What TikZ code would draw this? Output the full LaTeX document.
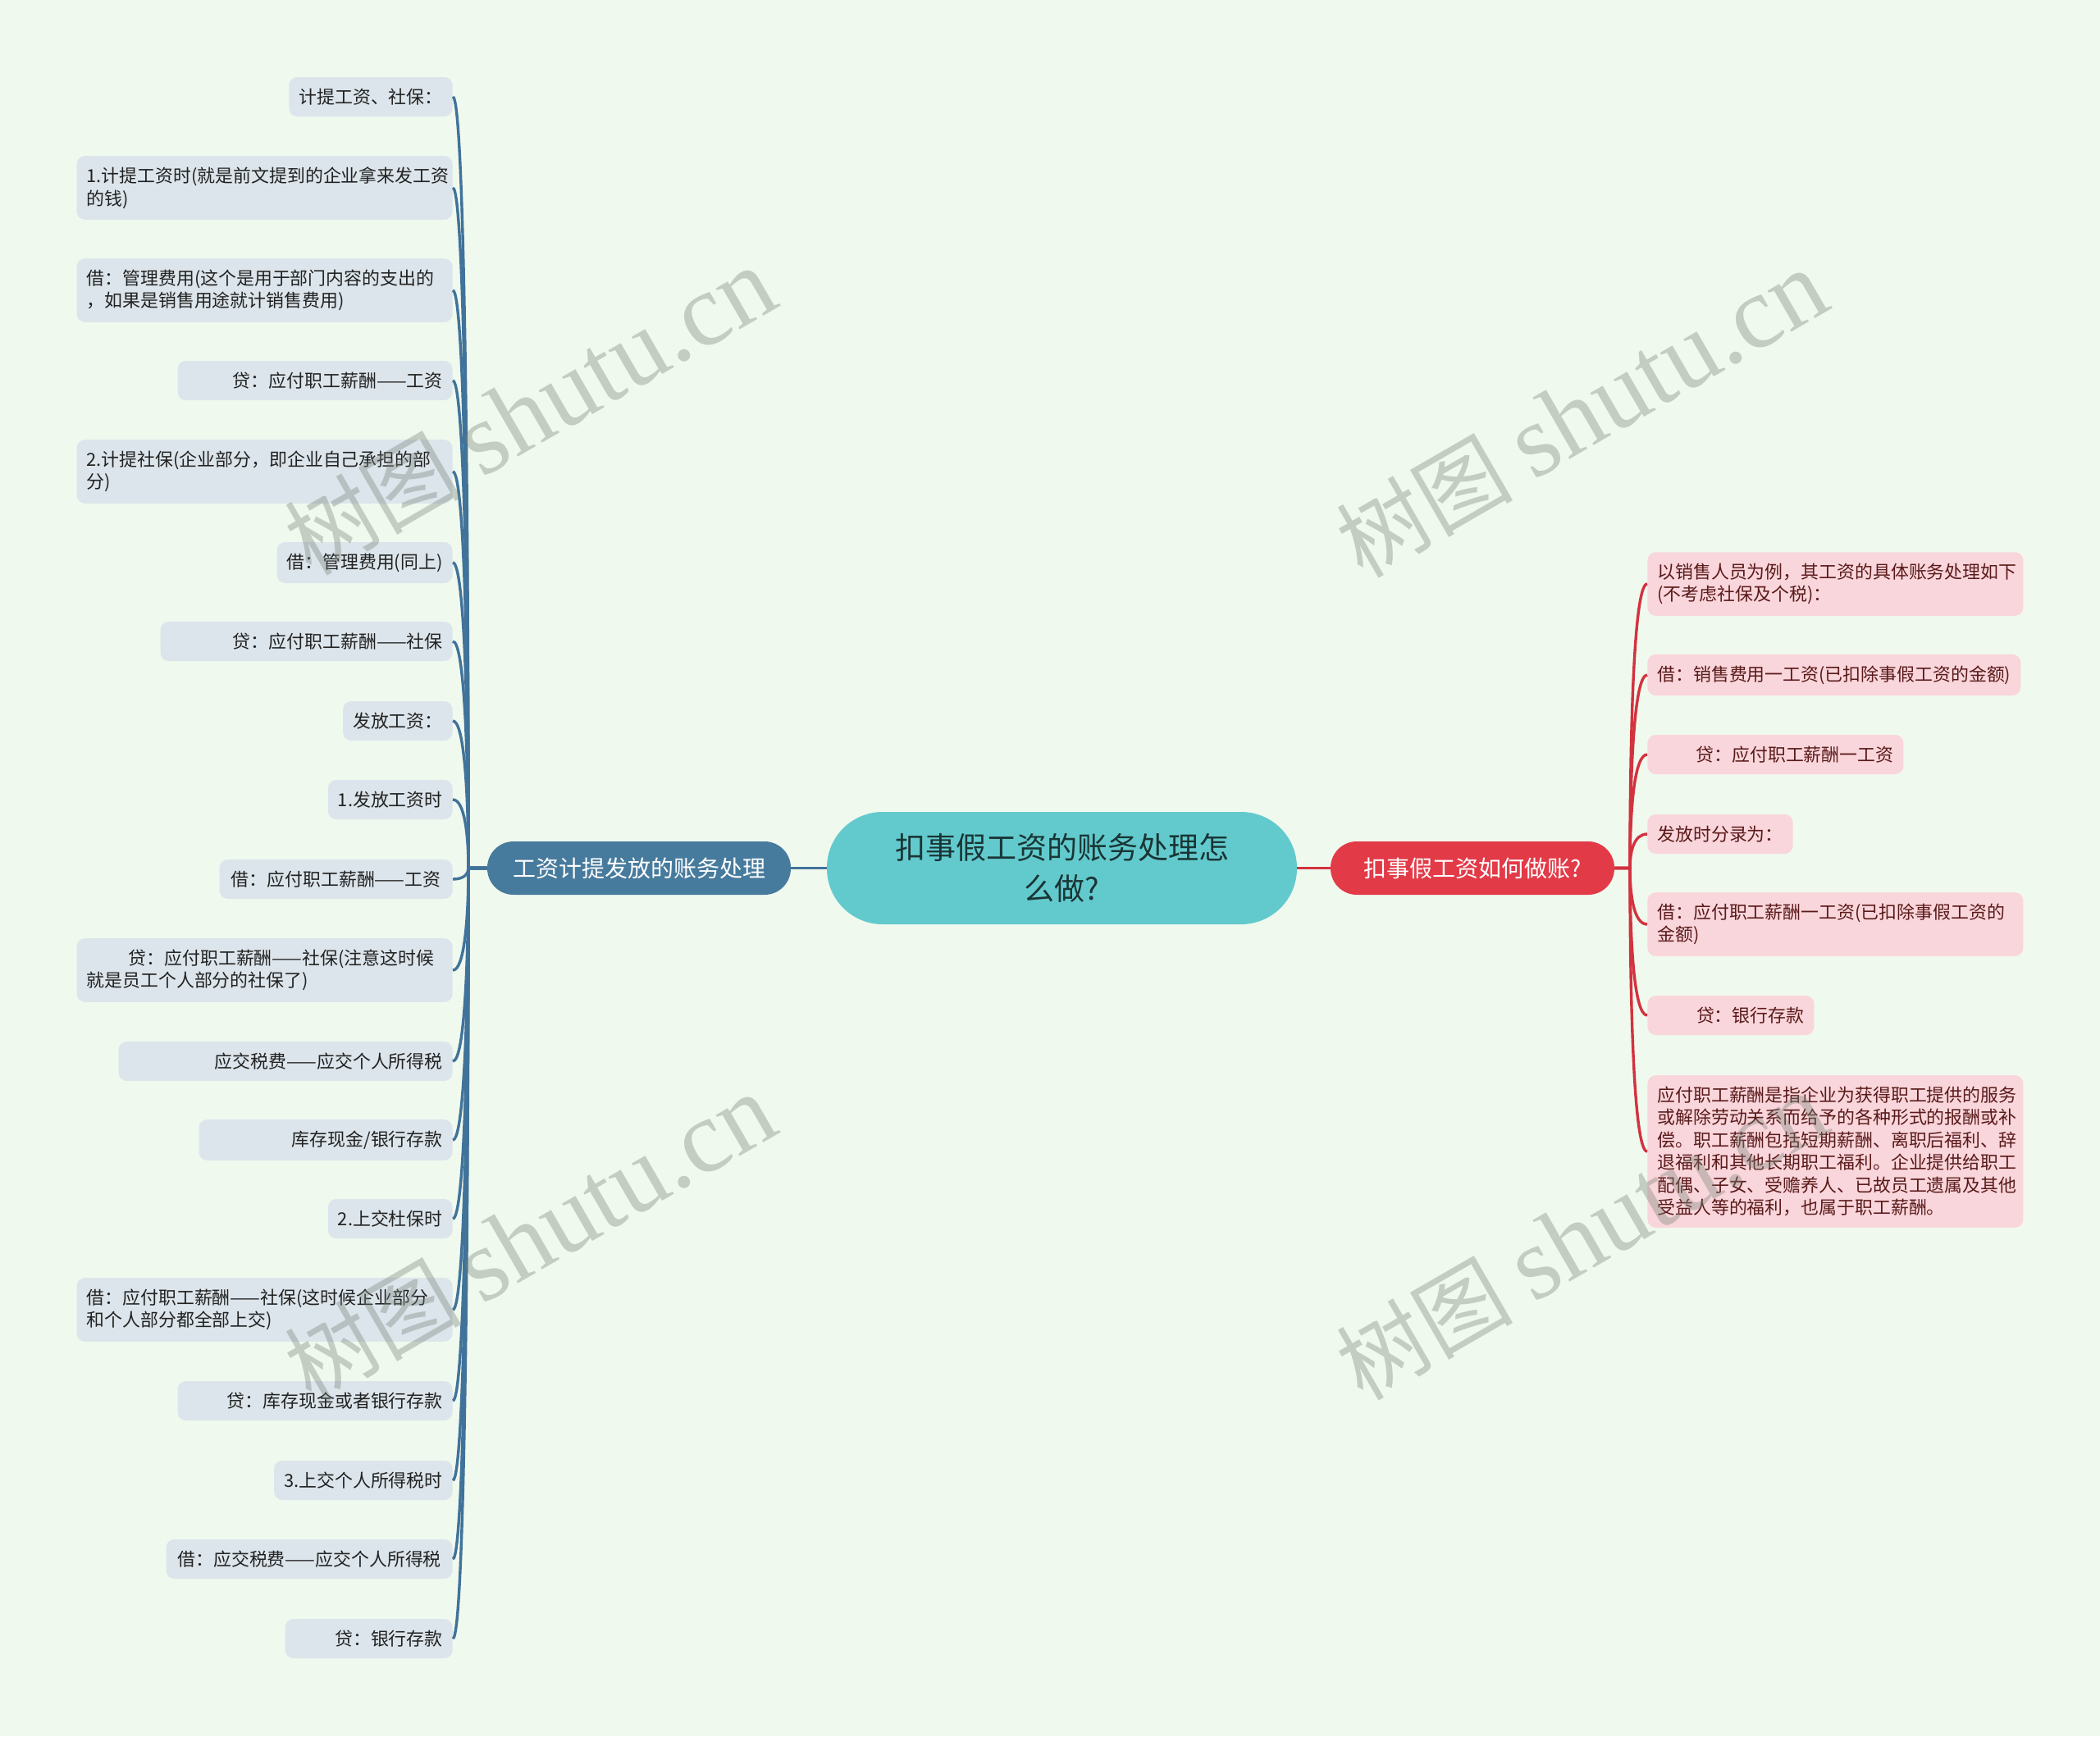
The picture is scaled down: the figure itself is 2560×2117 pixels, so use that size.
\documentclass[tikz,border=0pt]{standalone}
\usepackage{fontspec}
\setmainfont{Noto Sans CJK SC}
\newfontfamily\wmlatin{Liberation Serif}
\definecolor{bgc}{HTML}{F0F9EE}
\definecolor{lfill}{HTML}{DCE5EB}
\definecolor{ltext}{HTML}{222222}
\definecolor{lline}{HTML}{41739A}
\definecolor{lbfill}{HTML}{477B9D}
\definecolor{cfill}{HTML}{62CACD}
\definecolor{ctext}{HTML}{1A3535}
\definecolor{rbfill}{HTML}{E33A48}
\definecolor{rfill}{HTML}{F9D6DB}
\definecolor{rtext}{HTML}{5A1A1A}
\definecolor{rline}{HTML}{D3323F}
\definecolor{wmc}{RGB}{120,130,120}
\newcommand\leaffont{\fontsize{10.95pt}{13.75pt}\selectfont}
\tikzset{
  leafbase/.style={draw=none, rounded corners=5pt, inner xsep=6pt, inner ysep=6.8pt,
    minimum height=24pt, align=left, font=\leaffont},
  leafL/.style={leafbase, fill=lfill, text=ltext, anchor=east},
  leafR/.style={leafbase, fill=rfill, text=rtext, anchor=west},
  centerbox/.style={fill=cfill, rounded corners=34pt, minimum width=286.5pt, minimum height=68.5pt,
    align=center, inner sep=0pt, text=ctext, font=\fontsize{18.5pt}{25pt}\selectfont},
  branchbox/.style={rounded corners=16pt, minimum height=32.5pt, inner sep=0pt, text=white,
    font=\fontsize{14pt}{17pt}\selectfont},
  lcon/.style={draw=lline, line width=1.7pt},
  rcon/.style={draw=rline, line width=1.7pt},
  wmark/.style={rotate=30, text=wmc, opacity=0.37, inner sep=0pt}
}
\begin{document}
\begin{tikzpicture}[x=0.5pt,y=-0.5pt]
\useasboundingbox[fill=bgc] (0,0) rectangle (2560,2117);

% central and branch nodes
\node[centerbox] (C) at (1294.5,1058.5) {扣事假工资的账务处理怎\\么做?};
\node[branchbox, fill=lbfill, minimum width=185pt] (LB) at (779,1058.5) {工资计提发放的账务处理};
\node[branchbox, fill=rbfill, minimum width=173pt] (RB) at (1795,1058.5) {扣事假工资如何做账?};

% left leaves
\node[leafL, minimum width=98pt] (L1) at (552,118) {计提工资、社保：};
\node[leafL, text width=217pt] (L2) at (552,229) {1.计提工资时(就是前文提到的企业拿来发工资\\的钱)};
\node[leafL, text width=217pt] (L3) at (552,354) {借：管理费用(这个是用于部门内容的支出的\\，如果是销售用途就计销售费用)};
\node[leafL, text width=155.5pt, align=right] (L4) at (552,464) {贷：应付职工薪酬——工资};
\node[leafL, text width=217pt] (L5) at (552,575) {2.计提社保(企业部分，即企业自己承担的部\\分)};
\node[leafL, minimum width=105.5pt] (L6) at (552,686) {借：管理费用(同上)};
\node[leafL, text width=166pt, align=right] (L7) at (552,782) {贷：应付职工薪酬——社保};
\node[leafL, minimum width=65.5pt] (L8) at (552,879) {发放工资：};
\node[leafL, minimum width=72.5pt] (L9) at (552,975) {1.发放工资时};
\node[leafL, minimum width=142pt] (L10) at (552,1072) {借：应付职工薪酬——工资};
\node[leafL, text width=217pt] (L11) at (552,1183) {\hspace*{25.5pt}贷：应付职工薪酬——社保(注意这时候\\就是员工个人部分的社保了)};
\node[leafL, text width=191.5pt, align=right] (L12) at (552,1294) {应交税费——应交个人所得税};
\node[leafL, text width=142.5pt, align=right] (L13) at (552,1390) {库存现金/银行存款};
\node[leafL, minimum width=75pt] (L14) at (552,1486) {2.上交杜保时};
\node[leafL, text width=217pt] (L15) at (552,1597) {借：应付职工薪酬——社保(这时候企业部分\\和个人部分都全部上交)};
\node[leafL, text width=155.5pt, align=right] (L16) at (552,1708) {贷：库存现金或者银行存款};
\node[leafL, minimum width=107.5pt] (L17) at (552,1805) {3.上交个人所得税时};
\node[leafL, minimum width=174.5pt] (L18) at (552,1901) {借：应交税费——应交个人所得税};
\node[leafL, text width=90pt, align=right] (L19) at (552,1998) {贷：银行存款};

% right leaves
\node[leafR, text width=217pt] (R1) at (2008,712) {以销售人员为例，其工资的具体账务处理如下\\(不考虑社保及个税)：};
\node[leafR, minimum width=225.5pt] (R2) at (2008,823) {借：销售费用一工资(已扣除事假工资的金额)};
\node[leafR, text width=144pt, align=right] (R3) at (2008,920) {贷：应付职工薪酬一工资};
\node[leafR, minimum width=87pt] (R4) at (2008,1017) {发放时分录为：};
\node[leafR, text width=217pt] (R5) at (2008,1127) {借：应付职工薪酬一工资(已扣除事假工资的\\金额)};
\node[leafR, text width=89.5pt, align=right] (R6) at (2008,1238) {贷：银行存款};
\node[leafR, text width=217pt] (R7) at (2008,1404) {应付职工薪酬是指企业为获得职工提供的服务\\或解除劳动关系而给予的各种形式的报酬或补\\偿。职工薪酬包括短期薪酬、离职后福利、辞\\退福利和其他长期职工福利。企业提供给职工\\配偶、子女、受赡养人、已故员工遗属及其他\\受益人等的福利，也属于职工薪酬。};

% connectors
\draw[lcon] (LB.east) -- (C.west);
\draw[rcon] (C.east) -- (RB.west);
\coordinate (LJ) at (571,1058.5);
\coordinate (RJ) at (1987,1058.5);
\foreach \n/\y in {L1/118,L2/229,L3/354,L4/464,L5/575,L6/686,L7/782,L8/879,L9/975,L10/1072,
  L11/1183,L12/1294,L13/1390,L14/1486,L15/1597,L16/1708,L17/1805,L18/1901,L19/1998}{
  \draw[lcon] (LB.west) -- (LJ) .. controls (571,{(1058.5+\y)/2}) and (566,\y) .. (\n.east);
}
\foreach \n/\y in {R1/712,R2/823,R3/920,R4/1017,R5/1127,R6/1238,R7/1404}{
  \draw[rcon] (RB.east) -- (RJ) .. controls (1987,{(1058.5+\y)/2}) and (1992,\y) .. (\n.west);
}

% watermarks
\foreach \wx/\wy [count=\i] in {646/502,1928/505,646/1510,1928/1508}{
  \node[wmark] (W\i) at (\wx,\wy) {\fontsize{54pt}{58pt}\selectfont 树图 {\wmlatin\fontsize{63pt}{67pt}\selectfont shutu.cn}};
}
\end{tikzpicture}
\end{document}
